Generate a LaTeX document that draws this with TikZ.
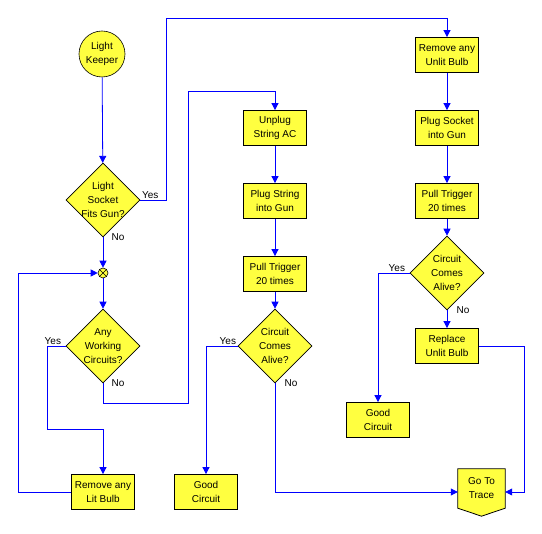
\documentclass[tikz,border=0pt]{standalone}
\usepackage{fontspec}
\setmainfont{Liberation Sans}
\usetikzlibrary{shapes.geometric,arrows.meta}
\definecolor{boxyellow}{RGB}{255,255,64}
\definecolor{flowblue}{RGB}{0,0,255}
\begin{document}
\begin{tikzpicture}[x=1pt, y=-1pt,
    every node/.style={font=\fontsize{10pt}{14pt}\selectfont, align=center},
    task/.style={draw, line width=0.8pt, fill=boxyellow, minimum width=63pt, minimum height=35pt, inner sep=0pt},
    decide/.style={draw, line width=0.6pt, fill=boxyellow, shape=diamond, inner sep=-8pt, minimum width=74pt, minimum height=74pt},
    flow/.style={draw=flowblue, line width=0.8pt, -{Triangle[width=7pt,length=7pt]}},
    lbl/.style={inner sep=1.5pt}]
    \useasboundingbox (0,0) rectangle (542,534);

    % Left column
    \node[draw, line width=0.6pt, fill=boxyellow, circle, inner sep=0pt, minimum size=46pt] (keeper) at (102,54) {Light\\Keeper};
    \node[decide] (socketq) at (103,200) {Light\\Socket\\Fits Gun?};
    \node[draw, line width=0.6pt, fill=boxyellow, circle, inner sep=0pt, minimum size=10pt] (join) at (103,273) {};
    \draw[line width=0.6pt] (join.north west) -- (join.south east) (join.north east) -- (join.south west);
    \node[decide] (anyq) at (103,346) {Any\\Working\\Circuits?};
    \node[task] (removelit) at (103,492) {Remove any\\Lit Bulb};

    % Middle column
    \node[task] (unplug) at (275,128) {Unplug\\String AC};
    \node[task] (plugstring) at (275,201) {Plug String\\into Gun};
    \node[task] (pullmid) at (275,274) {Pull Trigger\\20 times};
    \node[decide] (alivemid) at (275,346) {Circuit\\Comes\\Alive?};
    \node[task] (goodmid) at (206,492) {Good\\Circuit};

    % Right column
    \node[task] (removeunlit) at (447,55) {Remove any\\Unlit Bulb};
    \node[task] (plugsocket) at (447,128) {Plug Socket\\into Gun};
    \node[task] (pullright) at (447,201) {Pull Trigger\\20 times};
    \node[decide] (aliveright) at (447,273) {Circuit\\Comes\\Alive?};
    \node[task] (replace) at (447,346) {Replace\\Unlit Bulb};
    \node[task] (goodright) at (378,420) {Good\\Circuit};

    % Off-page connector
    \node[minimum width=47pt, minimum height=39pt, inner sep=0pt] (gototrace) at (481.5,488.5) {};
    \draw[line width=0.8pt, fill=boxyellow] (gototrace.north west) -- (gototrace.north east) -- (gototrace.south east)
        -- ([yshift=-8pt]gototrace.south) -- (gototrace.south west) -- cycle;
    \node (gototext) at (gototrace) {Go To\\Trace};

    % Bend points
    \coordinate (topbend) at (166,18);
    \coordinate (midbend) at (188,91);
    \coordinate (yesbend) at (47,429);
    \coordinate (loopcorner) at (18,273);
    \coordinate (rightbend) at (524,346);

    % Connectors
    \draw[flow] (keeper) -- (socketq);
    \draw[flow] (socketq.east) -| (topbend) -| (removeunlit.north);
    \draw[flow] (socketq) -- (join);
    \draw[flow] (join) -- (anyq);
    \draw[flow] (anyq.west) -| (yesbend) -| (removelit.north);
    \draw[flow] (anyq.south) |- (midbend |- 0,403) -- (midbend) -| (unplug.north);
    \draw[flow] (removelit.west) -| (loopcorner) -- (join.west);

    \draw[flow] (unplug) -- (plugstring);
    \draw[flow] (plugstring) -- (pullmid);
    \draw[flow] (pullmid) -- (alivemid);
    \draw[flow] (alivemid.west) -| (goodmid.north);
    \draw[flow] (alivemid.south) |- ([yshift=-3.5pt]gototrace.west);

    \draw[flow] (removeunlit) -- (plugsocket);
    \draw[flow] (plugsocket) -- (pullright);
    \draw[flow] (pullright) -- (aliveright);
    \draw[flow] (aliveright) -- (replace);
    \draw[flow] (aliveright.west) -| (goodright.north);
    \draw[flow] (replace.east) -- (rightbend) |- ([yshift=-3.5pt]gototrace.east);

    % Branch labels
    \node[lbl, above right] (yes1) at (socketq.east) {Yes};
    \node[lbl, right, xshift=7pt] (no1) at (socketq.south) {No};
    \node[lbl, above left, xshift=-3pt] (yes2) at (anyq.west) {Yes};
    \node[lbl, right, xshift=7pt] (no2) at (anyq.south) {No};
    \node[lbl, above left] (yes3) at (alivemid.west) {Yes};
    \node[lbl, right, xshift=8pt] (no3) at (alivemid.south) {No};
    \node[lbl, above left, xshift=-3pt] (yes4) at (aliveright.west) {Yes};
    \node[lbl, right, xshift=8pt] (no4) at (aliveright.south) {No};
\end{tikzpicture}
\end{document}
